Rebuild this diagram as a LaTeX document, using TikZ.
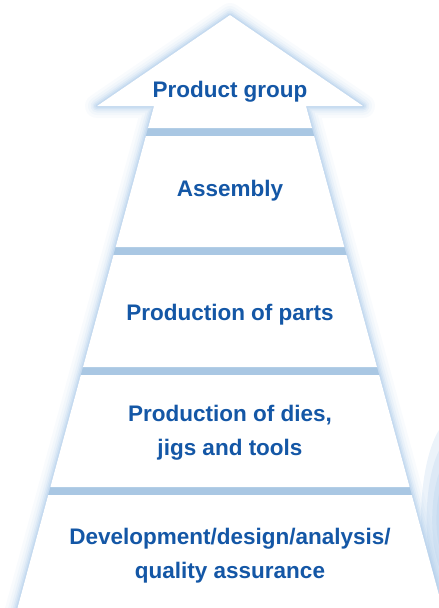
\documentclass[tikz,border=0pt]{standalone}
\usepackage{fontspec}
\setmainfont{Liberation Sans}
\usepackage{xcolor}
\definecolor{tierblue}{HTML}{1457A6}
\definecolor{bandblue}{HTML}{A9C7E3}
\definecolor{glowblue}{HTML}{A8C8E8}
% left edge of the arrow shaft at height #1 (right edge mirrored about 230)
\newcommand{\xl}[1]{154-0.272*(#1-106)}
\newcommand{\xr}[1]{306+0.272*(#1-106)}
\newcommand{\tier}[2] {
    \fill[white] ({\xl{#1}}, #1) -- ({\xr{#1}}, #1) -- ({\xr{#2}}, #2) -- ({\xl{#2}}, #2) -- cycle;
}

\begin{document}
\begin{tikzpicture}[x=1pt,y=-1pt,
        label/.style={text=tierblue,font=\fontsize{22.5}{34}\selectfont\bfseries,align=center}]
    \useasboundingbox (0,0) rectangle (439,608);
    % blurred blob at the right border
    \foreach \r in {1.0,0.8,0.6,0.45,0.3}
        \fill[glowblue,opacity=0.22] (455,520) ellipse ({28*\r+6} and {90*\r+12});
    % glow round the silhouette
    \foreach \w/\o in {24/0.07,18/0.09,13/0.12,9/0.16,6/0.22,3/0.32}
        \draw[glowblue,line width=\w pt,opacity=\o,line join=round]
            (230,15) -- (363,106) -- (306,106) -- ({\xr{640}},640)
            -- ({\xl{640}},640) -- (154,106) -- (97,106) -- cycle;
    % silhouette in band colour
    \fill[bandblue] (230,15) -- (363,106) -- (306,106) -- ({\xr{640}},640)
        -- ({\xl{640}},640) -- (154,106) -- (97,106) -- cycle;
    % arrow head with first tier
    \fill[white] (230,15) -- (363,106) -- (306,106) -- ({\xr{128}},128)
        -- ({\xl{128}},128) -- (154,106) -- (97,106) -- cycle;
    \tier{136}{247}
    \tier{255}{367}
    \tier{375}{487}
    \tier{495}{640}
    % labels
    \node[label] (product)  at (230,92)  {Product group};
    \node[label] (assembly) at (230,191) {Assembly};
    \node[label] (parts)    at (230,315) {Production of parts};
    \node[label] (dies)     at (230,433) {Production of dies,\\jigs and tools};
    \node[label] (develop)  at (230,556) {Development/design/analysis/\\quality assurance};
\end{tikzpicture}
\end{document}
